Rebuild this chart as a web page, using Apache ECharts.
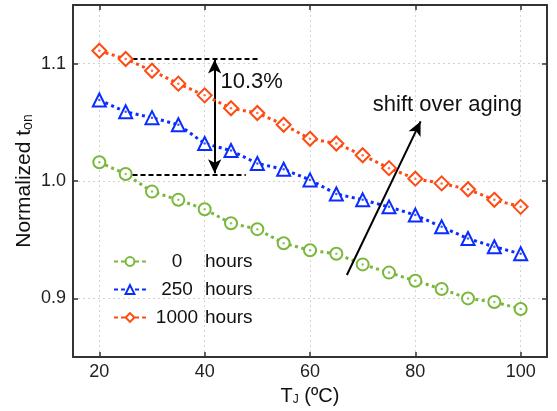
<!DOCTYPE html>
<html><head><meta charset="utf-8">
<script src="https://cdn.jsdelivr.net/npm/echarts@6/dist/echarts.min.js"></script>
<style>html,body{margin:0;padding:0;background:#fff}#c{width:557px;height:411px}</style>
</head><body><div id="c"></div>
<script>
const temps = [20,25,30,35,40,45,50,55,60,65,70,75,80,85,90,95,100];
const h0    = [1.016,1.006,0.991,0.984,0.976,0.964,0.959,0.947,0.941,0.938,0.929,0.922,0.915,0.908,0.900,0.897,0.891];
const h250  = [1.069,1.059,1.054,1.048,1.032,1.026,1.015,1.010,1.001,0.989,0.984,0.978,0.971,0.961,0.951,0.944,0.938];
const h1000 = [1.111,1.104,1.094,1.083,1.073,1.062,1.058,1.048,1.036,1.032,1.022,1.011,1.002,0.998,0.993,0.984,0.978];
const seriesNames = ['0 hours','250 hours','1000 hours'];
const xTicks = [20,40,60,80,100];
const yTicks = [0.9,1.0,1.1];
const annotText = ['10.3%','shift over aging'];

const colors = ['#7ab83c','#0a2dff','#ff4a12'];
const symbols = ['emptyCircle','emptyTriangle','emptyDiamond'];
const sizes = [12,13,14];
const values = [h0,h250,h1000];
const FONT = 'Liberation Sans, Arial, sans-serif';
const AX = '#333';

const pairs = v => temps.map((t,i)=>[t,v[i]]);

const series = [];
values.forEach((v,k)=>{
  series.push({
    name: seriesNames[k], type:'line', data: pairs(v),
    symbol: symbols[k], symbolSize: sizes[k],
    itemStyle:{color:colors[k], borderWidth:2},
    lineStyle:{color:colors[k], width:3, type:[3,3.5]},
    z: 3+k
  });
});
values.forEach((v,k)=>{
  series.push({
    type:'scatter', data: pairs(v), symbol:'circle', symbolSize:2.5,
    itemStyle:{color:colors[k]}, z: 10, silent:true
  });
});
// annotations
series.push({
  type:'line', data:[], silent:true,
  markLine:{
    silent:true, label:{show:false}, symbol:'none', animation:false,
    data:[
      [{coord:[26.3,1.1045], symbol:'none', lineStyle:{color:'#000',width:2,type:[5,3]}},{coord:[50.3,1.1045], symbol:'none'}],
      [{coord:[26.3,1.0056], symbol:'none', lineStyle:{color:'#000',width:2,type:[5,3]}},{coord:[47.8,1.0056], symbol:'none'}],
      [{coord:[41.9,1.1035], symbol:'arrow', symbolSize:[10,14], lineStyle:{color:'#000',width:2,type:'solid'}},{coord:[41.9,1.0066], symbol:'arrow', symbolSize:[10,14]}],
      [{coord:[67.0,0.920], symbol:'none', lineStyle:{color:'#000',width:2,type:'solid'}},{coord:[81.0,1.0508], symbol:'arrow', symbolSize:[10,14]}]
    ]
  },
  markPoint:{
    silent:true, symbolSize:0, animation:false,
    data:[
      {coord:[43.0,1.0842], label:{show:true, formatter:annotText[0], position:'right', distance:0, color:'#111', fontSize:22, fontFamily:FONT}},
      {coord:[86.1,1.0649], label:{show:true, formatter:annotText[1], position:'inside', color:'#111', fontSize:22, fontFamily:FONT}}
    ]
  }
});

const option = {
  animation:false,
  backgroundColor:'#fff',
  grid:{left:73, right:10, top:5, bottom:50, containLabel:false},
  legend:{
    orient:'vertical', left:113, top:252, padding:0, itemWidth:32, itemHeight:11, itemGap:9,
    data: seriesNames,
    lineStyle:{type:[4,3], width:2},
    textStyle:{fontFamily:FONT, fontSize:19, color:'#111',
      rich:{n:{width:52, align:'center', fontSize:19, fontFamily:FONT, color:'#111'},
            h:{fontSize:19, fontFamily:FONT, color:'#111', padding:[0,0,0,2]}}},
    formatter: name => { const p = name.split(' '); return '{n|'+p[0]+'}{h|'+p[1]+'}'; }
  },
  xAxis:[{
    type:'value', min:15, max:105, position:'bottom',
    name:'T{sub|J} (ºC)', nameLocation:'middle', nameGap:18,
    nameTextStyle:{fontFamily:FONT, fontSize:20, color:'#111',
      rich:{sub:{fontSize:12, fontFamily:FONT, color:'#111', padding:[8,0,0,0]}}},
    axisLine:{show:true, onZero:false, lineStyle:{color:AX, width:2}},
    axisTick:{show:true, inside:true, length:5, customValues:xTicks, lineStyle:{color:AX, width:1.5}},
    axisLabel:{customValues:xTicks, margin:6, fontFamily:FONT, fontSize:18, color:'#222'},
    splitLine:{show:true, lineStyle:{color:'#d2d2d2', width:1, type:[2,3]}}
  },{
    type:'value', min:15, max:105, position:'top',
    axisLine:{show:true, onZero:false, lineStyle:{color:AX, width:2}},
    axisTick:{show:true, inside:true, length:5, customValues:xTicks, lineStyle:{color:AX, width:1.5}},
    axisLabel:{show:false}, splitLine:{show:false}
  }],
  yAxis:[{
    type:'value', min:0.85, max:1.15, position:'left',
    name:'Normalized t{sub|on}', nameLocation:'middle', nameGap:38, nameRotate:90, nameMoveOverlap:false,
    nameTextStyle:{fontFamily:FONT, fontSize:21, color:'#111',
      rich:{sub:{fontSize:14, fontFamily:FONT, color:'#111', padding:[8,0,0,0]}}},
    axisLine:{show:true, onZero:false, lineStyle:{color:AX, width:2}},
    axisTick:{show:true, inside:true, length:5, customValues:yTicks, lineStyle:{color:AX, width:1.5}},
    axisLabel:{customValues:yTicks, margin:7, fontFamily:FONT, fontSize:18, color:'#222', formatter:v=>v.toFixed(1)},
    splitLine:{show:true, lineStyle:{color:'#d2d2d2', width:1, type:[2,3]}}
  },{
    type:'value', min:0.85, max:1.15, position:'right',
    axisLine:{show:true, onZero:false, lineStyle:{color:AX, width:2}},
    axisTick:{show:true, inside:true, length:5, customValues:yTicks, lineStyle:{color:AX, width:1.5}},
    axisLabel:{show:false}, splitLine:{show:false}
  }],
  series: series
};
const chart = echarts.init(document.getElementById('c'), null, {renderer:'canvas'});
chart.setOption(option);
</script></body></html>
